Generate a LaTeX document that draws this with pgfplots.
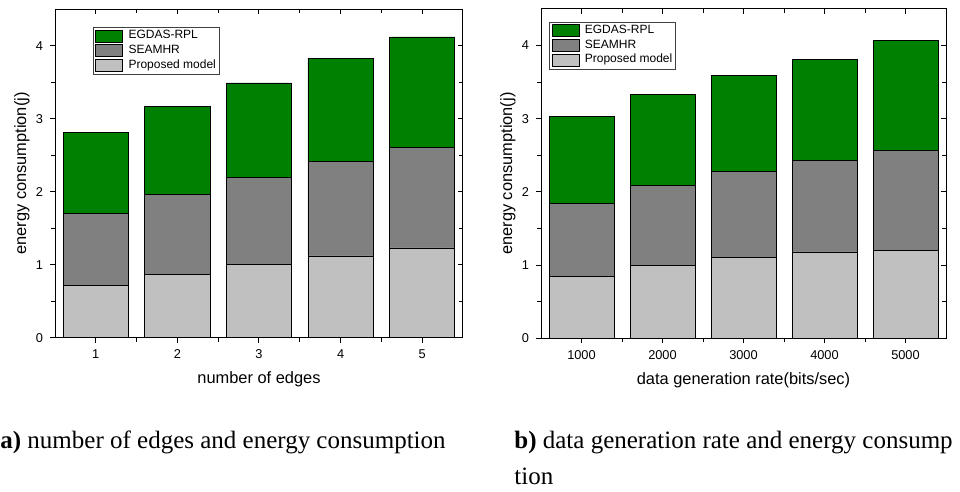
\documentclass[border=0pt]{standalone}
\usepackage{fontspec}
\setmainfont{Liberation Serif}
\newfontfamily\arial{Liberation Sans}
\usepackage{pgfplots}
\pgfplotsset{compat=1.18}
\definecolor{egdas}{HTML}{008000}
\definecolor{seam}{HTML}{808080}
\definecolor{prop}{HTML}{C0C0C0}

\pgfplotsset{
  common/.style={
    scale only axis,
    xmin=0.5, xmax=5.5, ymin=0, ymax=4.5,
    xtick={1,2,3,4,5}, ytick={0,1,2,3,4},
    minor x tick num=1, minor y tick num=1,
    axis line style={black, line width=0.5pt},
    tick style={black, line width=0.5pt},
    major tick length=2.5pt, minor tick length=2pt,
  },
  main/.style={
    common,
    ybar stacked, bar width=0.8,
    xtick pos=left, ytick pos=left, tick align=outside,
    /pgf/number format/assume math mode=true,
    tick label style={font=\arial\fontsize{6.4}{7}\selectfont},
    label style={font=\arial\fontsize{8.2}{10}\selectfont},
    reverse legend,
    legend style={anchor=north west, draw=black!75, line width=0.4pt,
      font=\arial\fontsize{6}{7}\selectfont, inner sep=1pt, row sep=0.6pt,
      column sep=2.2pt, nodes={inner sep=0.5pt}, cells={anchor=west}},
  },
  mirror/.style={
    common,
    xtick pos=right, ytick pos=right, tick align=inside,
    xticklabels={}, yticklabels={},
  },
  leg/.style={legend image code/.code={
    \draw[##1, draw=black, line width=0.4pt] (0pt,-3pt) rectangle (13.5pt,3pt);}},
  bars/.style={draw=black, line width=0.4pt, fill=#1, leg},
}

\begin{document}
\begin{tikzpicture}
\useasboundingbox (0,0) rectangle (480pt,246pt);
\clip (0,0) rectangle (480pt,246pt);

% (a) number of edges
\begin{axis}[main, at={(27.5pt,77.15pt)}, anchor=south west,
  width=204pt, height=164.25pt,
  xlabel={number of edges}, ylabel={energy consumption(j)},
  xlabel style={at={(axis description cs:0.5,-0.128)}, anchor=center},
  ylabel style={at={(axis description cs:-0.081,0.5)}, anchor=center},
  legend style={at={(axis description cs:0.093,0.946)}}]
  \addplot[bars=prop] coordinates {(1,0.72) (2,0.87) (3,1.00) (4,1.12) (5,1.23)};
  \addlegendentry{Proposed model}
  \addplot[bars=seam] coordinates {(1,0.98) (2,1.09) (3,1.19) (4,1.30) (5,1.38)};
  \addlegendentry{SEAMHR}
  \addplot[bars=egdas] coordinates {(1,1.11) (2,1.21) (3,1.30) (4,1.41) (5,1.51)};
  \addlegendentry{EGDAS-RPL}
\end{axis}
\begin{axis}[mirror, at={(27.5pt,77.15pt)}, anchor=south west,
  width=204pt, height=164.25pt]
\end{axis}

% (b) data generation rate
\begin{axis}[main, at={(270.5pt,76.85pt)}, anchor=south west,
  width=202.5pt, height=164.7pt,
  xticklabels={1000,2000,3000,4000,5000},
  xlabel={data generation rate(bits/sec)}, ylabel={energy consumption(j)},
  xlabel style={at={(axis description cs:0.5,-0.127)}, anchor=center},
  ylabel style={at={(axis description cs:-0.0815,0.5)}, anchor=center},
  legend style={at={(axis description cs:0.0205,0.961)}}]
  \addplot[bars=prop] coordinates {(1,0.85) (2,1.00) (3,1.11) (4,1.18) (5,1.20)};
  \addlegendentry{Proposed model}
  \addplot[bars=seam] coordinates {(1,0.99) (2,1.09) (3,1.17) (4,1.25) (5,1.37)};
  \addlegendentry{SEAMHR}
  \addplot[bars=egdas] coordinates {(1,1.19) (2,1.24) (3,1.31) (4,1.38) (5,1.50)};
  \addlegendentry{EGDAS-RPL}
\end{axis}
\begin{axis}[mirror, at={(270.5pt,76.85pt)}, anchor=south west,
  width=202.5pt, height=164.7pt]
\end{axis}

% sub-captions
\node[anchor=base west, inner sep=0pt, font=\fontsize{12.5}{15}\selectfont]
  at (0pt,21.5pt) {\textbf{a)} number of edges and energy consumption};
\node[anchor=base west, inner sep=0pt, font=\fontsize{12.5}{15}\selectfont]
  at (257pt,21.5pt) {\textbf{b)} data generation rate and energy consump};
\node[anchor=base west, inner sep=0pt, font=\fontsize{12.5}{15}\selectfont]
  at (257pt,3.5pt) {tion};
\end{tikzpicture}
\end{document}
